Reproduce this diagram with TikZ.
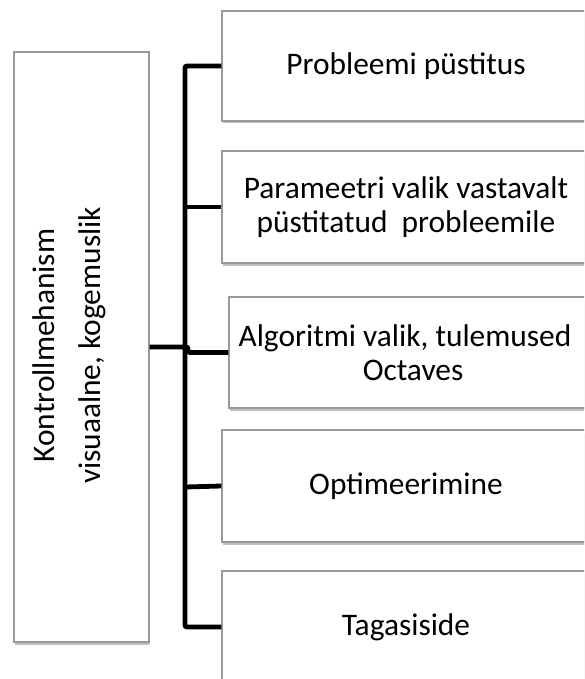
\documentclass[tikz,border=0pt]{standalone}
\usepackage{fontspec}
\setmainfont{Carlito}
\usetikzlibrary{shadows}
\begin{document}
\begin{tikzpicture}[x=1pt,y=-1pt,
  box/.style={draw=black!40, line width=1.3pt, fill=white, inner sep=0pt,
    minimum width=368pt, minimum height=111pt, align=center,
    font=\fontsize{31.4}{34}\selectfont,
    drop shadow={shadow xshift=0.8pt, shadow yshift=-2.5pt, opacity=0.35, fill=black!70}},
  conn/.style={line width=4.8pt, black, rounded corners=2pt}]
\useasboundingbox (0,0) rectangle (584,679);
\clip (0,0) rectangle (584,679);
\fill[white] (0,0) rectangle (584,679);
\node[box, minimum width=135pt, minimum height=590pt] (ctrl) at (81.5,347) {};
\node[rotate=90, align=center, font=\fontsize{31.4}{46}\selectfont, inner sep=0pt] (ctrltext) at (69,345.5) {Kontrollmehanism\\visuaalne, kogemuslik};
\node[box, minimum height=110pt] (b1) at (406,66) {Probleemi püstitus};
\node[box, minimum height=112pt] (b2) at (406,207) {Parameetri valik vastavalt\\püstitatud\ \ probleemile};
\node[box] (b3) at (413,352.5) {Algoritmi valik, tulemused\hspace*{16pt}\\Octaves};
\node[box, minimum height=112pt] (b4) at (406,486) {Optimeerimine};
\node[box, minimum height=112pt] (b5) at (406,627) {Tagasiside};
\coordinate (top) at (185,66);
\coordinate (bot) at (185,627);
\coordinate (J) at (188,347);
\draw[conn] (b1.west) -- (top) -- (bot) -- (b5.west);
\draw[conn] (185,207) -- (b2.west);
\draw[conn] (185,487) -- (b4.west);
\draw[conn] (ctrl.east) -- (J) -- (J |- b3.west) -- (b3.west);
\fill (186,349) circle (3.5pt);
\end{tikzpicture}
\end{document}
